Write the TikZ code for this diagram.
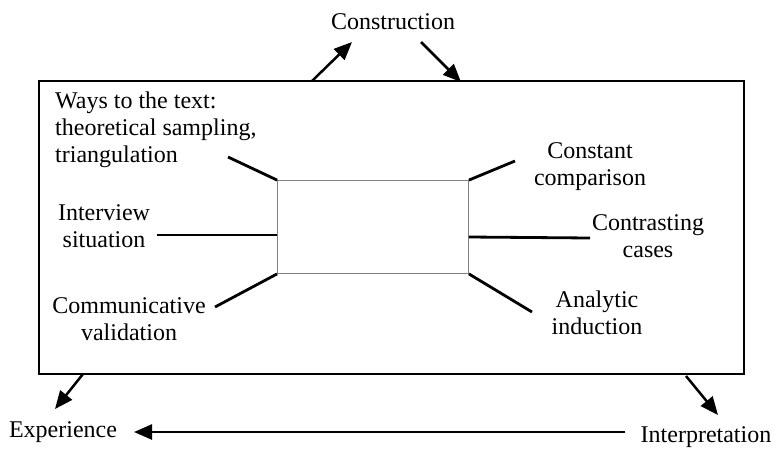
\documentclass[tikz,border=0pt]{standalone}
\usepackage{fontspec}
\setmainfont{Liberation Serif}
\usetikzlibrary{arrows.meta}
\begin{document}
\begin{tikzpicture}[x=1pt,y=-1pt,
  lbl/.style={font=\fontsize{24}{27}\selectfont, align=center, inner sep=0pt},
  spoke/.style={line width=2.8pt},
  flow/.style={line width=2.5pt, -{Triangle[length=18pt,width=15pt]}}]
\useasboundingbox (0,0) rectangle (773,450);
% boxes
\node[draw, line width=2.4pt, minimum width=705pt, minimum height=293pt, inner sep=0pt] (outer) at (391.5,227.5) {};
\node[draw, line width=0.8pt, gray, minimum width=191pt, minimum height=93pt, inner sep=0pt] (inner) at (373,227) {};
% labels
\node[lbl, align=left, anchor=west] (ways) at (55,130) {Ways to the text:\\theoretical sampling,\\triangulation};
\node[lbl] (interview) at (104,226) {Interview\\situation};
\node[lbl] (commval) at (129,319) {Communicative\\validation};
\node[lbl] (constant) at (590,167) {Constant\\comparison};
\node[lbl] (contrast) at (648,236) {Contrasting\\cases};
\node[lbl] (analytic) at (597,313) {Analytic\\induction};
\node[lbl] (constr) at (393,22) {Construction};
\node[lbl] (exp) at (63,432) {Experience};
\node[lbl] (interp) at (706,437) {Interpretation};
% spoke ends
\coordinate (sul) at (228,157);
\coordinate (sur) at (515,161);
\coordinate (sml) at (157,235);
\coordinate (smr) at (590,238);
\coordinate (sll) at (215,307);
\coordinate (slr) at (532,312);
\draw[spoke] (inner.north west) -- (sul);
\draw[spoke] (inner.north east) -- (sur);
\draw[spoke] ([yshift=-8pt]inner.west) -- (sml);
\draw[spoke] ([yshift=-10pt]inner.east) -- (smr);
\draw[spoke] (inner.south west) -- (sll);
\draw[spoke] (inner.south east) -- (slr);
% flow arrows
\coordinate (a1s) at (312,81);  \coordinate (a1e) at (352,42);
\coordinate (a2s) at (421,42);  \coordinate (a2e) at (461,82);
\coordinate (a3s) at (83,374);  \coordinate (a3e) at (55,409);
\coordinate (a4s) at (686,376); \coordinate (a4e) at (718,415);
\coordinate (a5s) at (625,432); \coordinate (a5e) at (134,432);
\draw[flow] (a1s) -- (a1e);
\draw[flow] (a2s) -- (a2e);
\draw[flow] (a3s) -- (a3e);
\draw[flow] (a4s) -- (a4e);
\draw[flow] (a5s) -- (a5e);
\end{tikzpicture}
\end{document}
